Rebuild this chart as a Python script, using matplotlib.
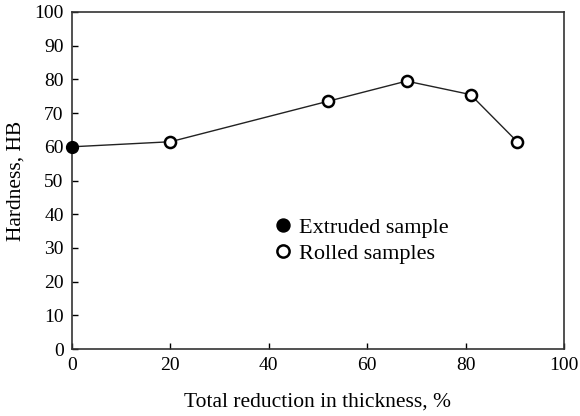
import matplotlib
matplotlib.use('Agg')
import matplotlib.pyplot as plt

matplotlib.rcParams['font.family'] = 'Liberation Serif'
matplotlib.rcParams['font.size'] = 13

# data
reduction = [0, 20, 52, 68, 81, 90.5]
hardness = [60, 61.5, 73.5, 79.5, 75.5, 61.5]
xticks = [0, 20, 40, 60, 80, 100]
yticks = list(range(0, 101, 10))

fig = plt.figure(figsize=(5.8, 4.16), dpi=100)
ax = fig.add_axes([72/580, 1-349/416, 492/580, 337/416])

ax.plot(reduction, hardness, '-', color='#222222', lw=1, zorder=1)
ax.plot(reduction[1:], hardness[1:], 'o', ms=8, mfc='white', mec='black',
        mew=1.8, ls='none', label='Rolled samples', zorder=2)
ax.plot(reduction[:1], hardness[:1], 'o', ms=8.5, mfc='black', mec='black',
        ls='none', label='Extruded sample', zorder=3, clip_on=False)

ax.set_xlim(0, 100)
ax.set_ylim(0, 100)
ax.set_xticks(xticks)
ax.set_yticks(yticks)
ax.tick_params(direction='in', length=4, width=1, labelsize=14, pad=6)
for s in ax.spines.values():
    s.set_linewidth(1.2)
    s.set_color('#333333')

ax.set_xlabel('Total reduction in thickness, %', fontsize=15.5, labelpad=13)
ax.set_ylabel('Hardness, HB', fontsize=15.5, labelpad=6)

h, l = ax.get_legend_handles_labels()
ax.legend(h[::-1], l[::-1], frameon=False, loc='center left',
          bbox_to_anchor=(0.362, 0.322), handletextpad=0.1, handlelength=1.2,
          labelspacing=0.25, fontsize=16, markerscale=1.1)

fig.savefig('out.png', dpi=100)
